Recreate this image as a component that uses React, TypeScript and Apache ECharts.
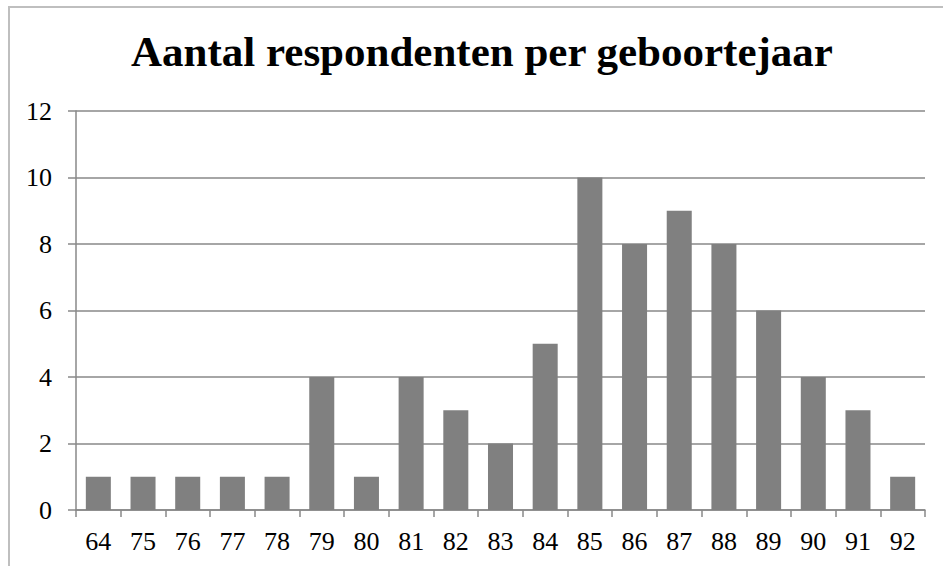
import React, { useEffect, useRef } from "react";
import * as echarts from "echarts";

const categories = ["64", "75", "76", "77", "78", "79", "80", "81", "82", "83", "84", "85", "86", "87", "88", "89", "90", "91", "92"];
const counts = [1, 1, 1, 1, 1, 4, 1, 4, 3, 2, 5, 10, 8, 9, 8, 6, 4, 3, 1];
const titleText = "Aantal respondenten per geboortejaar";

export default function App() {
  const ref = useRef<HTMLDivElement>(null);
  useEffect(() => {
    if (!ref.current) return;
    const chart = echarts.init(ref.current, null, { renderer: "svg" });
    const font = "Liberation Serif";
    chart.setOption({
      animation: false,
      backgroundColor: "#ffffff",
      title: {
        text: titleText,
        left: 126,
        top: 25,
        textStyle: { fontFamily: font, fontWeight: "bold", fontSize: 43, color: "#000" },
      },
      grid: { left: 76, right: 18, top: 111, bottom: 56, containLabel: false },
      xAxis: {
        type: "category",
        data: categories,
        axisLine: { lineStyle: { color: "#888888", width: 1.5 } },
        axisTick: { show: true, length: 7, lineStyle: { color: "#888888", width: 1.5 } },
        axisLabel: { fontFamily: font, fontSize: 26, color: "#000", margin: 18 },
      },
      yAxis: {
        type: "value",
        min: 0,
        max: 12,
        interval: 2,
        axisLine: { show: true, lineStyle: { color: "#888888", width: 1.5 } },
        axisTick: { show: true, length: 8, lineStyle: { color: "#888888", width: 1.5 } },
        splitLine: { lineStyle: { color: "#888888", width: 1.5 } },
        axisLabel: { fontFamily: font, fontSize: 26, color: "#000", margin: 24 },
      },
      series: [
        {
          type: "bar",
          data: counts,
          barCategoryGap: "44%",
          itemStyle: { color: "#808080" },
        },
      ],
      graphic: [
        {
          type: "rect",
          shape: { x: 9, y: 7, width: 1000, height: 700 },
          style: { fill: "none", stroke: "#bfbfbf", lineWidth: 2 },
          z: -1,
        },
      ],
    });
    return () => chart.dispose();
  }, []);
  return <div ref={ref} style={{ position: "fixed", left: 0, top: 0, width: 943, height: 566 }} />;
}
